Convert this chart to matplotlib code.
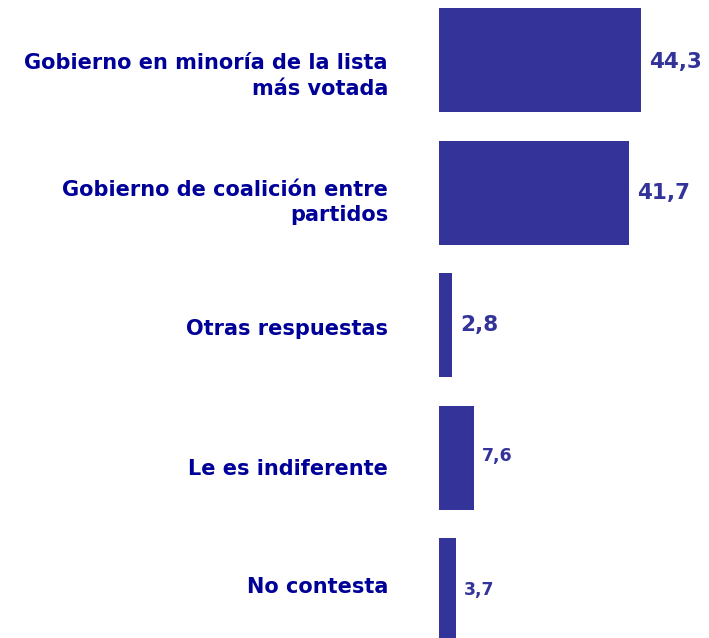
import matplotlib
matplotlib.use('Agg')
import matplotlib.pyplot as plt
from matplotlib.transforms import offset_copy

plt.rcParams['font.family'] = 'DejaVu Sans'

categories = ['Gobierno en minoría de la lista\nmás votada',
              'Gobierno de coalición entre\npartidos',
              'Otras respuestas',
              'Le es indiferente',
              'No contesta']
values = [44.3, 41.7, 2.8, 7.6, 3.7]
value_labels = ['44,3', '41,7', '2,8', '7,6', '3,7']

BAR = '#333399'
LABEL = '#000099'
VALUE = '#333399'

# per-label tweaks (layout only)
label_dy = [0.12, 0.075, 0.03, 0.09, -0.02]
value_fs = [15.5, 15.5, 15.5, 12.5, 12.5]
value_dy = [0.015, 0.0, 0.0, -0.01, 0.0]

fig = plt.figure(figsize=(7.09, 6.38), dpi=100)
ax = fig.add_axes([439 / 709, 0, 270 / 709, 1])
ypos = list(range(len(values)))
ax.barh(ypos, values, height=0.785, color=BAR, edgecolor='none')
ax.set_xlim(0, 270 / 4.56)
ax.set_ylim(4.362, -0.453)
ax.axis('off')

val_tr = offset_copy(ax.transData, fig=fig, x=8 * 0.72, y=0, units='points')
for y, v, s, fs, dy in zip(ypos, values, value_labels, value_fs, value_dy):
    ax.text(v, y + dy, s, transform=val_tr, ha='left', va='center',
            fontsize=fs, fontweight='bold', color=VALUE, clip_on=False)

lab_tr = offset_copy(ax.transData, fig=fig, x=-51 * 0.72, y=0, units='points')
for y, c, dy in zip(ypos, categories, label_dy):
    ax.text(0, y + dy, c, transform=lab_tr, ha='right', va='center',
            fontsize=15, fontweight='bold', color=LABEL, linespacing=1.35,
            clip_on=False)

fig.savefig('out.png', dpi=100, facecolor='white')
